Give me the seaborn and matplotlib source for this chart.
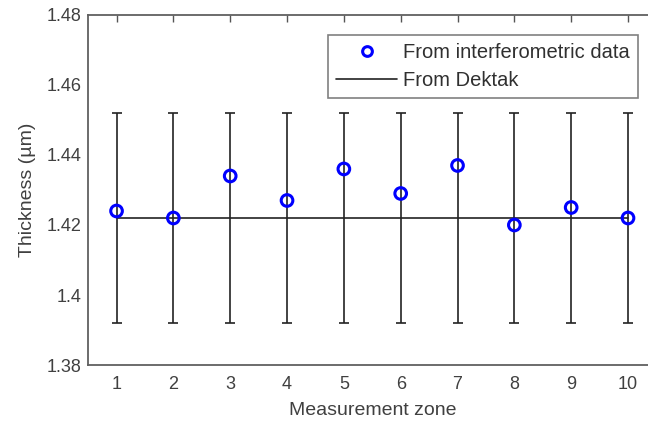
import numpy as np
import pandas as pd
import matplotlib
matplotlib.use("Agg")
import matplotlib.pyplot as plt
import seaborn as sns
from matplotlib.lines import Line2D

# data
zones = [1, 2, 3, 4, 5, 6, 7, 8, 9, 10]
interf = [1.424, 1.422, 1.434, 1.427, 1.436, 1.429, 1.437, 1.420, 1.425, 1.422]
dektak = [1.422] * 10
dektak_err = [0.03] * 10
yticks = [1.38, 1.40, 1.42, 1.44, 1.46, 1.48]
ytick_labels = ["1.38", "1.4", "1.42", "1.44", "1.46", "1.48"]

df = pd.DataFrame({"zone": zones, "interf": interf, "dektak": dektak, "err": dektak_err})

sns.set_theme(style="white")
plt.rcParams["font.family"] = ["Liberation Sans", "DejaVu Sans"]
plt.rcParams["xtick.direction"] = "in"
plt.rcParams["ytick.direction"] = "in"

fig = plt.figure(figsize=(6.48, 4.25), dpi=100)
ax = fig.add_axes([0.136, 0.141, 0.877, 0.824])

dark = "#222222"

# Dektak reference line with error bars
sns.lineplot(data=df, x="zone", y="dektak", color=dark, linewidth=1.2, ax=ax, legend=False)
ax.errorbar(df["zone"], df["dektak"], yerr=df["err"], fmt="none",
            ecolor=dark, elinewidth=1.2, capsize=3.6, capthick=1.2)

# interferometric points
sns.scatterplot(data=df, x="zone", y="interf", marker="o", s=70,
                facecolor="none", edgecolor="#0000ff", linewidth=2.2, ax=ax, zorder=5, legend=False)

ax.set_xlim(0.5, 10.5)
ax.set_ylim(1.38, 1.48)
ax.set_xticks(zones)
ax.set_xticklabels([str(z) for z in zones])
ax.set_yticks(yticks)
ax.set_yticklabels(ytick_labels)
ax.tick_params(axis="both", which="both", length=5, width=1, colors="#555555",
               labelcolor="#404040", labelsize=13, top=True, right=True)
ax.tick_params(axis="x", pad=8)
ax.tick_params(axis="y", pad=5)

for s in ax.spines.values():
    s.set_color("#606060")
    s.set_linewidth(1.3)

ax.set_xlabel("Measurement zone", fontsize=14, color="#404040", labelpad=6)
ax.set_ylabel("Thickness (µm)", fontsize=14, color="#404040", labelpad=7)

handles = [
    Line2D([], [], marker="o", linestyle="none", markerfacecolor="none",
           markeredgecolor="#0000ff", markeredgewidth=2.2, markersize=7),
    Line2D([], [], color=dark, linewidth=1.2),
]
leg = ax.legend(handles, ["From interferometric data", "From Dektak"],
                loc="upper right", bbox_to_anchor=(0.967, 0.943), borderaxespad=0,
                fontsize=14.5, handlelength=3.0, handletextpad=0.3, labelspacing=0.45,
                borderpad=0.4, frameon=True, fancybox=False, edgecolor="#606060")
leg.get_frame().set_linewidth(1.2)
for t in leg.get_texts():
    t.set_color("#303030")

fig.savefig("out.png", dpi=100)
